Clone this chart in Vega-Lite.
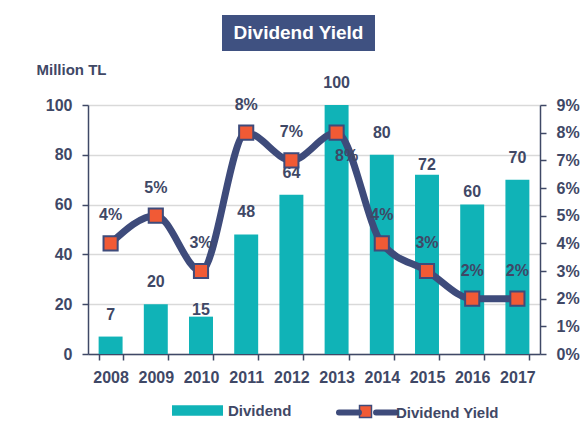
{
  "$schema": "https://vega.github.io/schema/vega-lite/v6.json",
  "background": "white",
  "padding": {"left": 36, "top": 15, "right": 5, "bottom": 5},
  "bounds": "flush",
  "spacing": 90,
  "config": {
    "font": "Liberation Sans",
    "view": {"stroke": null}
  },
  "vconcat": [
    {
      "bounds": "flush",
      "spacing": 0,
      "hconcat": [
        {"width": 134, "height": 36, "data": {"values": []}, "mark": "rect", "encoding": {}},
        {
          "width": 153, "height": 36,
          "view": {"fill": "#3F5181", "stroke": null},
          "data": {"values": [{"t": "Dividend Yield"}]},
          "mark": {"type": "text", "color": "#FFFFFF", "fontSize": 19, "fontWeight": "bold", "font": "Liberation Sans"},
          "encoding": {"text": {"field": "t"}}
        }
      ]
    },
    {
      "width": 452,
      "height": 249,
      "data": {
        "values": [
          {"Year": 2008, "Dividend": 7, "Yield": 0.04},
          {"Year": 2009, "Dividend": 20, "Yield": 0.05},
          {"Year": 2010, "Dividend": 15, "Yield": 0.03},
          {"Year": 2011, "Dividend": 48, "Yield": 0.08},
          {"Year": 2012, "Dividend": 64, "Yield": 0.07},
          {"Year": 2013, "Dividend": 100, "Yield": 0.08},
          {"Year": 2014, "Dividend": 80, "Yield": 0.04},
          {"Year": 2015, "Dividend": 72, "Yield": 0.03},
          {"Year": 2016, "Dividend": 60, "Yield": 0.02},
          {"Year": 2017, "Dividend": 70, "Yield": 0.02}
        ]
      },
      "encoding": {
        "x": {
          "field": "Year", "type": "ordinal",
          "scale": {"paddingInner": 0.47, "paddingOuter": 0.235},
          "axis": {
            "title": null, "labelAngle": 0, "tickBand": "extent", "tickSize": 6,
            "labelPadding": 9, "labelFontSize": 16, "labelFontWeight": "bold",
            "labelColor": "#3F4866", "domainColor": "#3F4866", "tickColor": "#3F4866",
            "domainWidth": 1.5, "tickWidth": 1.5
          }
        }
      },
      "layer": [
        {
          "encoding": {
            "y": {
              "field": "Dividend", "type": "quantitative",
              "scale": {"domain": [0, 100]},
              "axis": {
                "values": [0, 20, 40, 60, 80, 100], "grid": true, "gridColor": "#D9D9D9", "gridWidth": 1.5,
                "tickSize": 6, "labelPadding": 10, "labelFontSize": 16, "labelFontWeight": "bold",
                "labelColor": "#3F4866", "domainColor": "#3F4866", "tickColor": "#3F4866",
                "domainWidth": 1.5, "tickWidth": 1.5,
                "title": "Million TL", "titleAngle": 0, "titleAlign": "left", "titleBaseline": "alphabetic",
                "titleX": -52, "titleY": -31, "titleFontSize": 15, "titleFontWeight": "bold", "titleColor": "#3F4866"
              }
            }
          },
          "layer": [
            {
              "mark": {"type": "bar", "color": "#10B3B7"},
              "encoding": {
                "fill": {
                  "datum": "Dividend",
                  "scale": {"range": ["#10B3B7"]},
                  "legend": {
                    "orient": "none", "legendX": 84, "legendY": 280, "title": null,
                    "symbolType": "M-1,-0.21H1V0.21H-1Z", "symbolSize": 2601, "symbolStrokeWidth": 0,
                    "labelFontSize": 15, "labelFontWeight": "bold", "labelColor": "#3F4866", "labelOffset": 5
                  }
                }
              }
            },
            {
              "mark": {
                "type": "text", "fontSize": 16, "fontWeight": "bold", "color": "#3F4866", "baseline": "middle",
                "dy": {"expr": "datum.Year == 2010 ? -7 : datum.Year == 2015 ? -10 : datum.Year == 2016 ? -13 : -22"}
              },
              "encoding": {
                "text": {"field": "Dividend", "type": "quantitative"}
              }
            }
          ]
        },
        {
          "encoding": {
            "y": {
              "field": "Yield", "type": "quantitative",
              "scale": {"domain": [0, 0.09]},
              "axis": {
                "orient": "right", "values": [0, 0.01, 0.02, 0.03, 0.04, 0.05, 0.06, 0.07, 0.08, 0.09],
                "format": ".0%", "grid": false, "title": null, "labelOverlap": false,
                "tickSize": 6, "labelPadding": 10, "labelFontSize": 16, "labelFontWeight": "bold",
                "labelColor": "#3F4866", "domainColor": "#3F4866", "tickColor": "#3F4866",
                "domainWidth": 1.5, "tickWidth": 1.5
              }
            }
          },
          "layer": [
            {
              "mark": {"type": "line", "interpolate": "monotone", "strokeWidth": 7, "color": "#3E4B7B"},
              "encoding": {
                "stroke": {
                  "datum": "Dividend Yield",
                  "scale": {"range": ["#3E4B7B"]},
                  "legend": {
                    "orient": "none", "legendX": 248, "legendY": 366, "title": null,
                    "symbolType": "M-1,0H-0.3M0.3,0H1", "symbolSize": 3249, "symbolStrokeWidth": 6,
                    "symbolStrokeColor": "#3E4B7B",
                    "labelFontSize": 15, "labelFontWeight": "bold", "labelColor": "#3F4866", "labelOffset": -3,
                    "encode": {"symbols": {"update": {"strokeCap": {"value": "round"}}}}
                  }
                }
              }
            },
            {
              "mark": {"type": "square", "filled": true, "size": 200, "stroke": "#3E4B7B", "strokeWidth": 2, "opacity": 1},
              "encoding": {
                "fill": {
                  "datum": "marker",
                  "scale": {"range": ["#F15A35"]},
                  "legend": {
                    "orient": "none", "legendX": 248, "legendY": 277, "title": null,
                    "symbolType": "M-0.21,-0.21H0.21V0.21H-0.21Z", "symbolSize": 3249,
                    "symbolStrokeColor": "#3E4B7B", "symbolStrokeWidth": 1.5,
                    "labelFontSize": 15, "labelOpacity": 0, "labelOffset": -3, "labelExpr": "''"
                  }
                }
              }
            },
            {
              "mark": {
                "type": "text", "fontSize": 16, "fontWeight": "bold", "color": "#3F4866", "baseline": "middle",
                "dy": {"expr": "datum.Year == 2013 ? 23 : -28"},
                "dx": {"expr": "datum.Year == 2013 ? 10 : 0"}
              },
              "encoding": {
                "text": {"field": "Yield", "type": "quantitative", "format": ".0%"}
              }
            }
          ]
        }
      ],
      "resolve": {"scale": {"y": "independent", "fill": "independent"}}
    }
  ]
}
